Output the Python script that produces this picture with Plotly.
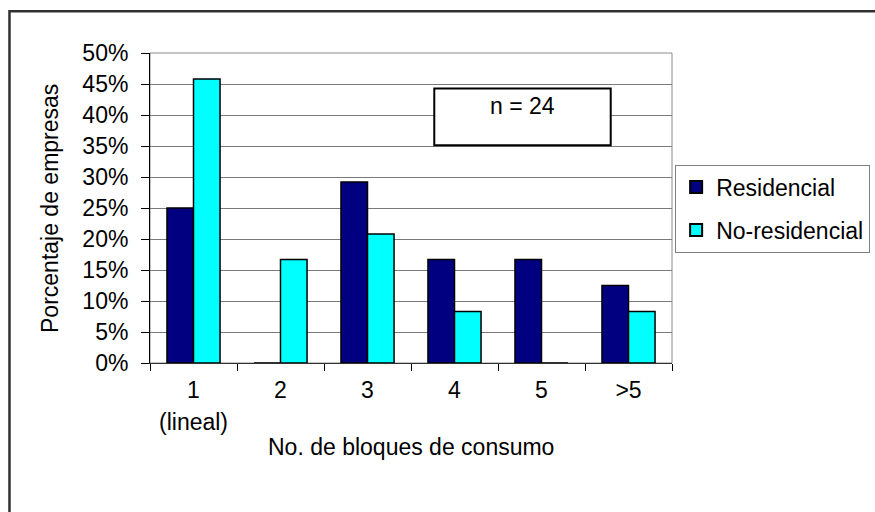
import plotly.graph_objects as go

categories = ["1", "2", "3", "4", "5", ">5"]
residencial = [25.0, 0.0, 29.2, 16.7, 16.7, 12.5]
no_residencial = [45.8, 16.7, 20.8, 8.3, 0.0, 8.3]
y_ticks = list(range(0, 55, 5))

FONT = "Liberation Sans, Arial, sans-serif"
FS = 23

fig = go.Figure()
fig.add_trace(go.Bar(x=categories, y=residencial, name="Residencial", legendgroup="a",
                     marker=dict(color="#000080", line=dict(color="#000000", width=1.5))))
fig.add_trace(go.Bar(x=categories, y=no_residencial, name="No-residencial", legendgroup="b",
                     marker=dict(color="#00FFFF", line=dict(color="#000000", width=1.5))))

fig.update_layout(
    width=875, height=512,
    margin=dict(l=150, r=203, t=53, b=149, autoexpand=False),
    paper_bgcolor="white", plot_bgcolor="white",
    font=dict(family=FONT, size=FS, color="black"),
    barmode="group", bargap=0.39, bargroupgap=0,
    showlegend=True,
    legend=dict(x=1.006, xanchor="left", y=0.64, yanchor="top",
                bordercolor="#808080", borderwidth=1, bgcolor="white",
                font=dict(family=FONT, size=23), tracegroupgap=10,
                itemsizing="constant"),
    xaxis=dict(type="category", showgrid=False, showline=True, linecolor="#303030", linewidth=1,
               ticks="outside", tickson="boundaries", ticklen=7, tickcolor="#000000",
               ticklabelstandoff=6, tickfont=dict(size=FS)),
    yaxis=dict(range=[0, 50], tickvals=y_ticks, ticktext=[f"{v}%" for v in y_ticks],
               showgrid=True, gridcolor="#7a7a7a", gridwidth=1, zeroline=False,
               showline=True, linecolor="#000000", linewidth=1,
               ticks="outside", ticklen=8, tickcolor="#000000",
               ticklabelstandoff=8, tickfont=dict(size=FS)),
    shapes=[
        # plot area border
        dict(type="rect", xref="paper", yref="paper", x0=0, x1=1, y0=0, y1=1,
             line=dict(color="#8a8a8a", width=1), layer="below"),
        # chart area border
        dict(type="rect", xref="paper", yref="paper", x0=-0.2692, x1=1.6, y0=-0.8, y1=1.135,
             line=dict(color="#303030", width=2.5)),
        # n = 24 box
        dict(type="rect", xref="paper", yref="paper", x0=0.5446, x1=0.8826, y0=0.7023, y1=0.8852,
             line=dict(color="#000000", width=2), fillcolor="white", layer="above"),
    ],
    annotations=[
        dict(text="n = 24", xref="paper", yref="paper", x=0.713, y=0.828,
             xanchor="center", yanchor="middle", showarrow=False, font=dict(size=FS)),
        dict(text="(lineal)", xref="x", yref="paper", x=0, y=-0.19,
             xanchor="center", yanchor="middle", showarrow=False, font=dict(size=FS)),
        dict(text="No. de bloques de consumo", xref="paper", yref="paper", x=0.5, y=-0.272,
             xanchor="center", yanchor="middle", showarrow=False, font=dict(size=FS)),
        dict(text="Porcentaje de empresas", xref="paper", yref="paper", x=-0.1916, y=0.5,
             xanchor="center", yanchor="middle", textangle=-90, showarrow=False, font=dict(size=FS)),
    ],
)

fig.write_html("out.html", config={"displayModeBar": False},
               post_script="document.body.style.margin='0px';")
